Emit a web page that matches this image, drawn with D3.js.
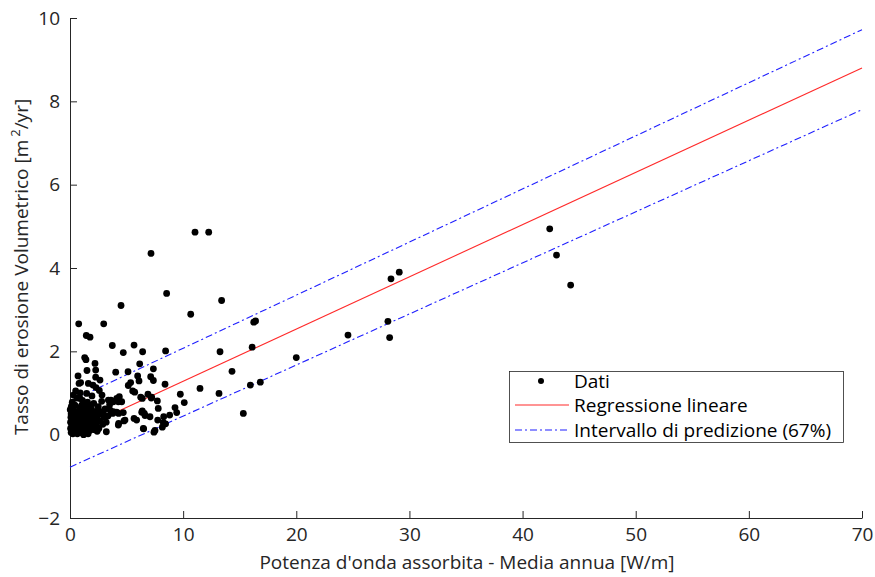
<!DOCTYPE html>
<html>
<head>
<meta charset="utf-8">
<script src="https://cdn.jsdelivr.net/npm/d3@7"></script>
<style>
  body { margin: 0; background: #fff; }
  svg { display: block; font-family: "Open Sans", sans-serif; }
</style>
</head>
<body>
<svg id="chart" width="875" height="577"></svg>
<script>
// dati
const potenza = [
  42.4, 43.0, 44.25, 28.37, 29.1, 28.1, 28.25, 24.57, 16.1, 16.24, 16.4, 20.0, 14.32, 15.94, 16.82,
  8.54, 13.4, 10.67, 8.45, 13.26, 8.4, 11.49, 13.17, 9.75, 10.1, 9.28, 9.43, 8.81, 8.45,
  11.05, 12.26, 7.16, 7.37, 7.13, 7.37, 7.22, 7.72, 7.8, 8.28, 7.75, 8.25, 8.16, 7.42, 15.32,
  4.51, 0.77, 2.98, 1.44, 1.77, 3.74, 5.66, 4.71, 6.42, 1.3, 1.41, 2.21, 6.16, 1.5, 2.27,
  4.04, 5.13, 0.71, 2.27, 2.65, 5.98, 6.1, 0.94, 1.62, 2.03, 5.36, 2.3, 2.59, 5.15, 5.54,
  0.88, 1.47, 1.94, 2.83, 3.39, 3.83, 4.36, 4.57, 5.72, 6.39, 1.03, 1.77, 2.5, 2.95, 3.83,
  4.3, 4.71, 5.66, 6.34, 6.63, 6.51, 3.21, 4.3, 4.77, 5.89, 6.89, 6.25, 7.18, 3.62, 4.13,
  4.27, 3.54, 3.77, 4.13, 6.39, 6.57, 7.07, 4.86, 4.27, 6.48, 7.51, 0.8,
  0.1, 0.15, 0.2, 0.1, 0.25, 0.3, 0.35, 0.4, 0.45, 0.5, 0.55, 0.6, 0.65, 0.7, 0.75, 0.8,
  0.85, 0.9, 0.95, 1.0, 1.05, 1.1, 1.15, 1.2, 1.25, 1.3, 1.35, 1.4, 1.45, 1.5, 1.55, 1.6,
  1.65, 1.7, 1.75, 1.8, 1.85, 1.9, 1.95, 2.0, 2.05, 2.1, 2.15, 2.2, 2.25, 2.35, 2.4, 2.5,
  2.55, 2.65, 2.75, 2.8, 2.9, 3.0, 3.1, 3.2, 3.35, 3.5, 0.05, 0.08, 0.12, 0.2, 0.05, 0.3,
  0.6, 0.18, 0.42, 0.02, 0.25, 0.65, 1.2, 0.5, 0.9, 1.6, 2.4, 0.35, 1.0, 1.4
]
const erosione = [
  4.94, 4.31, 3.59, 3.74, 3.9, 2.72, 2.33, 2.39, 2.1, 2.7, 2.73, 1.85, 1.52, 1.19, 1.26,
  3.39, 3.22, 2.89, 2.01, 1.99, 1.21, 1.11, 0.99, 0.97, 0.77, 0.65, 0.53, 0.47, 0.26,
  4.86, 4.86, 4.35, 1.58, 1.39, 1.3, 0.9, 0.81, 0.63, 0.43, 0.35, 0.29, 0.18, 0.06, 0.51,
  3.1, 2.66, 2.66, 2.38, 2.34, 2.14, 2.15, 1.97, 1.99, 1.85, 1.8, 1.71, 1.7, 1.54, 1.55,
  1.5, 1.51, 1.41, 1.38, 1.31, 1.41, 1.29, 1.25, 1.23, 1.19, 1.25, 1.13, 1.06, 1.18, 1.05,
  0.87, 0.99, 0.93, 0.95, 0.83, 0.79, 0.91, 0.79, 1.02, 0.87, 0.7, 0.7, 0.67, 0.55, 0.55,
  0.51, 0.53, 0.39, 0.54, 0.46, 0.14, 0.07, 0.27, 0.33, 0.35, 0.97, 0.9, 0.88, 0.83, 0.87,
  0.79, 0.59, 0.51, 0.54, 0.57, 0.51, 0.43, 0.35, 0.23, 0.15, 0.1, 1.23,
  0.05, 0.2, 0.35, 0.5, 0.62, 0.12, 0.28, 0.45, 0.7, 0.08, 0.22, 0.38, 0.55, 0.15, 0.3, 0.48,
  0.65, 0.05, 0.2, 0.4, 0.58, 0.82, 0.12, 0.3, 0.5, 0.68, 0.08, 0.25, 0.42, 0.6, 0.78, 0.15,
  0.35, 0.52, 0.1, 0.28, 0.45, 0.62, 0.2, 0.38, 0.55, 0.75, 0.12, 0.3, 0.48, 0.22, 0.4, 0.6,
  0.15, 0.33, 0.5, 0.8, 0.25, 0.42, 0.62, 0.3, 0.45, 0.72, 0.3, 0.42, 0.68, 0.78, 0.15, 0.95,
  0.88, 0.55, 0.18, 0.6, 0.02, 0.02, 0.0, 1.05, 1.0, 0.02, 0.08, 0.72, 0.4, 0.1
]

// regressione e intervallo di predizione (estremi a x = 0 e x = 70)
const xEstremi = [0, 70]
const regressione = [0.03, 8.8]
const intervalloSup = [0.8, 9.72]
const intervalloInf = [-0.78, 7.8]

const xTicks = [0, 10, 20, 30, 40, 50, 60, 70]
const yTicks = [-2, 0, 2, 4, 6, 8, 10]
const voci = ['Dati', 'Regressione lineare', 'Intervallo di predizione (67%)']

const svg = d3.select('#chart')
const x = d3.scaleLinear([0, 70], [70, 862])
const y = d3.scaleLinear([-2, 10], [518, 18])
const axisColor = '#262626'
const rosso = '#ff2a2a'
const blu = '#1f1fff'

// assi
const xAxis = svg.append('g')
  .attr('transform', 'translate(0,' + y(-2) + ')')
  .call(d3.axisBottom(x).tickValues(xTicks).tickSizeInner(-7).tickSizeOuter(0).tickPadding(10))
const yAxis = svg.append('g')
  .attr('transform', 'translate(' + x(0) + ',0)')
  .call(d3.axisLeft(y).tickValues(yTicks).tickSizeInner(-7).tickSizeOuter(0).tickPadding(10))

for (const g of [xAxis, yAxis]) {
  g.select('.domain').attr('stroke', axisColor)
  g.selectAll('.tick line').attr('stroke', axisColor)
  g.selectAll('.tick text')
    .attr('fill', axisColor)
    .attr('font-size', '19px')
    .attr('font-family', '"Open Sans", sans-serif')
}

// linee
const linea = d3.line()
  .x(d => x(d[0]))
  .y(d => y(d[1]))

svg.append('path')
  .datum(d3.zip(xEstremi, regressione))
  .attr('d', linea)
  .attr('fill', 'none')
  .attr('stroke', rosso)
  .attr('stroke-width', 1.1)

svg.selectAll('.pi')
  .data([intervalloSup, intervalloInf])
  .join('path')
  .attr('class', 'pi')
  .attr('d', d => linea(d3.zip(xEstremi, d)))
  .attr('fill', 'none')
  .attr('stroke', blu)
  .attr('stroke-width', 1.1)
  .attr('stroke-dasharray', '7,3,2,3')

// punti
svg.append('g')
  .selectAll('circle')
  .data(d3.zip(potenza, erosione))
  .join('circle')
  .attr('cx', d => x(d[0]))
  .attr('cy', d => y(d[1]))
  .attr('r', 3.4)
  .attr('fill', '#000')

// etichette assi
svg.append('text')
  .text("Potenza d'onda assorbita - Media annua [W/m]")
  .attr('x', 467)
  .attr('y', 569)
  .attr('text-anchor', 'middle')
  .attr('font-size', '19px')
  .attr('fill', axisColor)

const yLab = svg.append('text')
  .attr('transform', 'translate(28, 267) rotate(-90)')
  .attr('text-anchor', 'middle')
  .attr('font-size', '19px')
  .attr('fill', axisColor)
yLab.append('tspan').text('Tasso di erosione Volumetrico [m')
yLab.append('tspan').text('2').attr('font-size', '13px').attr('dx', 3).attr('dy', -8)
yLab.append('tspan').text('/yr]').attr('dy', 8)

// legenda
const legenda = svg.append('g')
legenda.append('rect')
  .attr('x', 509.5).attr('y', 371.5)
  .attr('width', 334).attr('height', 71)
  .attr('fill', '#fff')
  .attr('stroke', axisColor)
  .attr('stroke-width', 0.8)

legenda.selectAll('text')
  .data(voci)
  .join('text')
  .text(d => d)
  .attr('x', 574)
  .attr('y', (d, i) => 381 + i * 24.5)
  .attr('dy', '0.35em')
  .attr('font-size', '19px')
  .attr('fill', '#000')

legenda.append('circle')
  .attr('cx', 541).attr('cy', 381).attr('r', 3)
  .attr('fill', '#000')
legenda.append('line')
  .attr('x1', 515).attr('x2', 569)
  .attr('y1', 405).attr('y2', 405)
  .attr('stroke', rosso).attr('stroke-width', 1.2)
legenda.append('line')
  .attr('x1', 515).attr('x2', 569)
  .attr('y1', 430).attr('y2', 430)
  .attr('stroke', blu).attr('stroke-width', 1.1)
  .attr('stroke-dasharray', '7,3,2,3')
</script>
</body>
</html>
